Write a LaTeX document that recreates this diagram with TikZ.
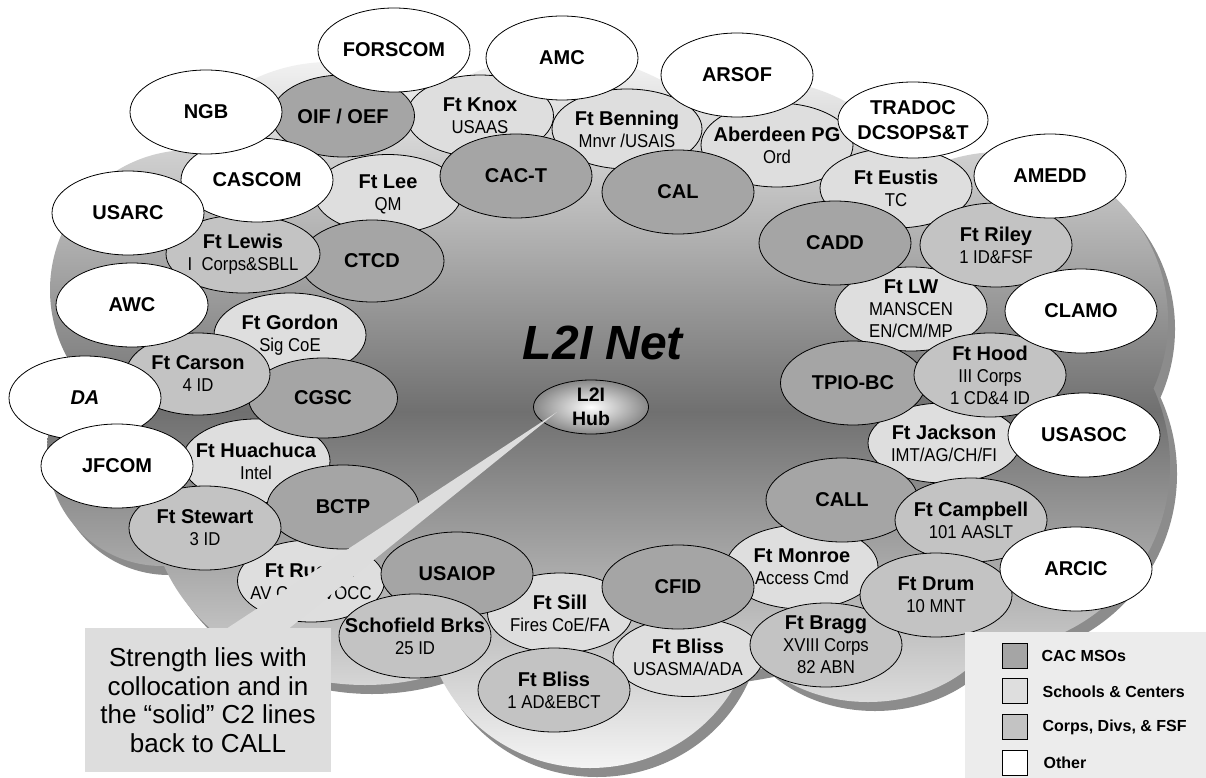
\documentclass[tikz,border=0pt]{standalone}
\usepackage{fontspec}
\setmainfont{Liberation Sans}
\newfontfamily\narrowfont[FakeStretch=0.9]{Liberation Sans}
\usetikzlibrary{shapes.geometric}
\usetikzlibrary{positioning}
\usetikzlibrary{calc}

\definecolor{msogray}{RGB}{165,165,165}
\definecolor{schoolgray}{RGB}{222,222,222}
\definecolor{corpsgray}{RGB}{195,195,195}
\definecolor{notegray}{RGB}{221,221,221}
\definecolor{keygray}{RGB}{236,236,236}
\definecolor{rimgray}{RGB}{140,140,140}
\definecolor{cloudlight}{RGB}{244,244,244}
\definecolor{clouddark}{RGB}{112,112,112}
\definecolor{hubgray}{RGB}{135,135,135}

% second line of a site, set narrow and light
\newcommand{\sub}[1]{{\narrowfont\mdseries\fontsize{18.6}{22}\selectfont #1}}

\tikzset{
site/.style={ % every bubble round the net
ellipse, draw, line width=0.8pt,
minimum width=152pt, minimum height=84pt,
inner xsep=-40pt, inner ysep=-30pt, % keeps long names from growing the bubble
align=center, font=\bfseries\fontsize{20}{22}\selectfont},
mso/.style={site, fill=msogray},
school/.style={site, fill=schoolgray},
corps/.style={site, fill=corpsgray},
other/.style={site, fill=white},
hubnode/.style={ellipse, draw, line width=0.8pt,
minimum width=115pt, minimum height=54pt, inner xsep=-10pt, inner ysep=-12pt,
inner color=white, outer color=hubgray,
align=center, font=\bfseries\fontsize{19.5}{24}\selectfont},
notebox/.style={fill=notegray, minimum width=246pt, minimum height=144pt, inner sep=0pt,
align=center, font=\fontsize{26}{28.5}\selectfont},
swatch/.style={draw, line width=0.8pt, minimum size=25pt, inner sep=0pt},
keytext/.style={anchor=west, inner sep=0pt, font=\bfseries\fontsize{16}{18}\selectfont},
cloud/.style={insert path={ % lobes of the net
(330,240) circle [radius=178pt]
(560,270) circle [radius=215pt]
(760,260) circle [radius=180pt]
(1000,320) circle [radius=168pt]
(985,465) circle [radius=185pt]
(868,590) ellipse [x radius=140pt, y radius=112pt]
(590,610) ellipse [x radius=165pt, y radius=158pt]
(365,500) ellipse [x radius=215pt, y radius=185pt]
(162,451) circle [radius=115pt]
(190,290) circle [radius=140pt]
(640,420) ellipse [x radius=420pt, y radius=260pt]}}}

\begin{document}
\begin{tikzpicture}[x=1pt,y=-1pt]
\useasboundingbox (0,0) rectangle (1206,778);
\fill[white] (0,0) rectangle (1206,778);

% the net: rim first, then the shaded top
\path[shift={(7,9)}, cloud, fill=rimgray];
\shade[cloud, top color=cloudlight, bottom color=cloudlight, middle color=clouddark];

\node[font=\bfseries\itshape\fontsize{48}{50}\selectfont] (nettitle) at (603,343) {L2I Net};
\node[hubnode] (hub) at (591,407) {L2I\\Hub};

% schools and centers
\node[school, minimum width=147pt, minimum height=82pt] (knox) at (480,116) {Ft Knox\\\sub{USAAS}};
\node[school, minimum width=150pt, minimum height=80pt] (benning) at (627,129) {Ft Benning\\\sub{Mnvr /USAIS}};
\node[school] (aberdeen) at (777,145) {Aberdeen PG\\\sub{Ord}};
\node[school, minimum width=147pt, minimum height=79pt] (lee) at (388,194) {Ft Lee\\\sub{QM}};
\node[school, minimum height=80pt] (eustis) at (896,188) {Ft Eustis\\\sub{TC}};
\node[school] (lw) at (911,309) {Ft LW\\\sub{MANSCEN}\\\sub{EN/CM/MP}};
\node[school, minimum height=80pt] (jackson) at (944,443) {Ft Jackson\\\sub{IMT/AG/CH/FI}};
\node[school] (gordon) at (290,335) {Ft Gordon\\\sub{Sig CoE}};
\node[school, minimum width=148pt] (huachuca) at (256,461) {Ft Huachuca\\\sub{Intel}};
\node[school, minimum width=147pt, minimum height=82pt] (rucker) at (311,581) {Ft Rucker\\\sub{AV CoE/AVOCC}};
\node[school, minimum width=145pt, minimum height=80pt] (sill) at (560,613) {Ft Sill\\\sub{Fires CoE/FA}};
\node[school, minimum width=150pt, minimum height=79pt] (blissb) at (688,657) {Ft Bliss\\\sub{USASMA/ADA}};
\node[school] (monroe) at (802,567) {Ft Monroe\\\sub{Access Cmd}};

% CAC MSOs
\node[mso, minimum width=143pt, minimum height=82pt] (oif) at (343,116) {OIF / OEF};
\node[mso] (cact) at (516,176) {CAC-T};
\node[mso, minimum width=144pt, minimum height=82pt] (ctcd) at (372,261) {CTCD};
\node[mso] (cal) at (678,192) {CAL};
\node[mso] (cadd) at (835,243) {CADD};
\node[mso, minimum width=145pt] (tpio) at (853,383) {TPIO-BC};
\node[mso] (call) at (842,500) {CALL};
\node[mso] (cfid) at (678,587) {CFID};
\node[mso] (usaiop) at (457,574) {USAIOP};
\node[mso] (bctp) at (343,507) {BCTP};
\node[mso, minimum width=149pt, minimum height=80pt] (cgsc) at (323,398) {CGSC};

% corps, divisions and FSF
\node[corps, minimum width=154pt, minimum height=78pt] (lewis) at (243,254) {Ft Lewis\\\sub{I\enspace Corps\&SBLL}};
\node[corps, minimum width=144pt, minimum height=82pt] (carson) at (198,374) {Ft Carson\\\sub{4 ID}};
\node[corps] (stewart) at (205,528) {Ft Stewart\\\sub{3 ID}};
\node[corps] (schofield) at (415,636) {Schofield Brks\\\sub{25 ID}};
\node[corps] (blissa) at (554,690) {Ft Bliss\\\sub{1 AD\&EBCT}};
\node[corps] (bragg) at (826,645) {Ft Bragg\\\sub{XVIII Corps}\\\sub{82 ABN}};
\node[corps] (campbell) at (971,520) {Ft Campbell\\\sub{101 AASLT}};
\node[corps] (drum) at (936,595) {Ft Drum\\\sub{10 MNT}};
\node[corps] (hood) at (990,375) {Ft Hood\\\sub{III Corps}\\\sub{1 CD\&4 ID}};
\node[corps] (riley) at (996,245) {Ft Riley\\\sub{1 ID\&FSF}};

% other partners
\node[other] (cascom) at (257,180) {CASCOM};
\node[other] (ngb) at (206,112) {NGB};
\node[other] (forscom) at (394,50) {FORSCOM};
\node[other] (amc) at (562,58) {AMC};
\node[other] (arsof) at (737,75) {ARSOF};
\node[other, minimum width=150pt, minimum height=76pt, font=\bfseries\fontsize{20}{25}\selectfont] (tradoc) at (913,120) {TRADOC\\DCSOPS\&T};
\node[other] (amedd) at (1050,176) {AMEDD};
\node[other] (clamo) at (1081,311) {CLAMO};
\node[other] (usasoc) at (1084,435) {USASOC};
\node[other] (arcic) at (1076,569) {ARCIC};
\node[other] (usarc) at (128,213) {USARC};
\node[other] (awc) at (132,305) {AWC};
\node[other] (da) at (85,398) {\textit{DA}};
\node[other] (jfcom) at (117,466) {JFCOM};

% callout from the hub
\node[notebox] (note) at (208,700) {Strength lies with\\collocation and in\\the “solid” C2 lines\\back to CALL};
\coordinate (tip) at ($(hub.center)+(-34,5)$);
\fill[notegray] (tip) -- ($(note.north west)+(143,0)$) -- ($(note.north west)+(205,0)$) -- cycle;

% key
\fill[keygray] (965,632) rectangle (1206,778);
\node[swatch, fill=msogray] (keymso) at (1014.5,655.5) {};
\node[swatch, fill=schoolgray, below=10pt of keymso] (keyschool) {};
\node[swatch, fill=corpsgray, below=10pt of keyschool] (keycorps) {};
\node[swatch, fill=white, below=10pt of keycorps] (keyother) {};
\node[keytext, right=14pt of keymso] (msotext) {CAC MSOs};
\node[keytext, right=15pt of keyschool] (schooltext) {Schools \& Centers};
\node[keytext, right=15pt of keycorps] (corpstext) {Corps, Divs, \& FSF};
\node[keytext, right=16pt of keyother] (othertext) {Other};
\end{tikzpicture}
\end{document}
